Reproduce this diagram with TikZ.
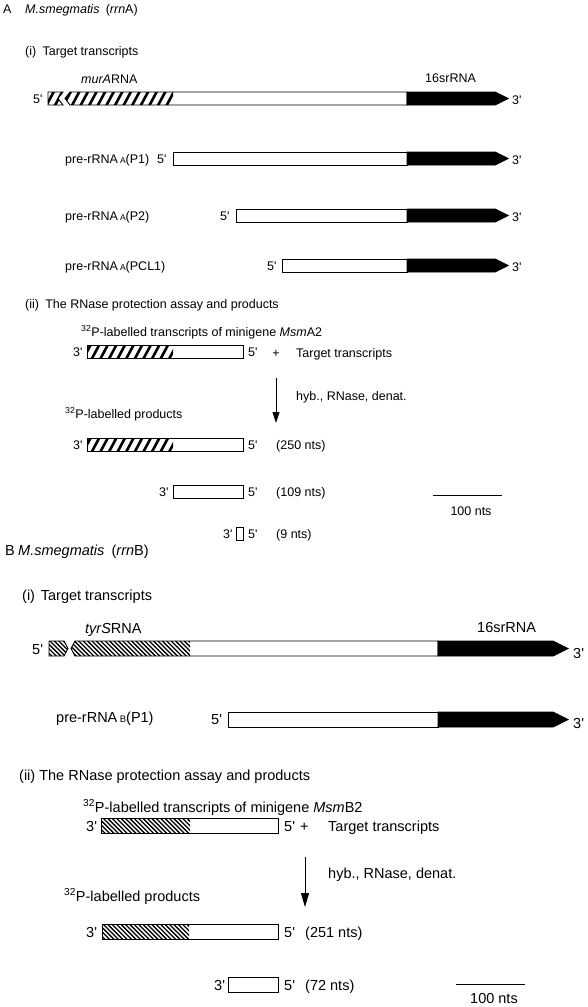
\documentclass[tikz,border=0pt]{standalone}
\usepackage{fontspec}
\setmainfont{Liberation Sans}
\usetikzlibrary{arrows.meta}
\newcommand{\pr}{\textquotesingle}
\newcommand{\hatchA}[5]{\begin{scope}\clip #1;\foreach \i in {0,...,#3}{\draw[stA] ({#2+\i*8.6-1.6},{#5+3}) -- ({#2+\i*8.6+8.6},{#4-3});}\end{scope}}
\newcommand{\hatchB}[5]{\begin{scope}\clip #1;\foreach \i in {0,...,#3}{\draw[stB] ({#2+\i*4.4},{#4-3}) -- ({#2+\i*4.4+21},{#5+3});}\end{scope}}
\newcommand{\rowA}[3]{\draw[outl,fill=white] (#1,#2) rectangle (407,#3);\draw[outl,fill=black] (407,#2)--(495,#2)--(508,{(#2+#3)/2})--(495,#3)--(407,#3)--cycle;}
\newcommand{\rowB}[3]{\draw[outl,fill=white] (#1,#2) rectangle (438,#3);\draw[outl,fill=black] (438,#2)--(553,#2)--(568,{(#2+#3)/2})--(553,#3)--(438,#3)--cycle;}
\begin{document}
\begin{tikzpicture}[x=1pt,y=-1pt,
  ta/.style={font=\fontsize{12.5}{15}\selectfont, inner sep=0pt, anchor=base west},
  tb/.style={font=\fontsize{14.5}{17}\selectfont, inner sep=0pt, anchor=base west},
  outl/.style={draw=black, line width=0.9pt},
  stA/.style={line width=2.6pt},
  stB/.style={line width=1.3pt},
  conn/.style={line width=1pt},
  scalebar/.style={line width=1pt}]
\useasboundingbox[fill=white] (0,0) rectangle (587,1007);

% ================= A =================
\node[ta] (Alet) at (3,13) {A};
\node[ta] (Atitle) at (25,13) {\textit{M.smegmatis}\hspace{0.5em}(\textit{rrn}A)};
\node[ta] (Ai) at (25,55) {(i)\hspace{0.5em}Target transcripts};
\node[ta] (mur) at (81,83) {\textit{murA}RNA};
\node[ta] (s16a) at (425,82) {16srRNA};
\node[ta] (a5) at (33,103) {5\pr};
\node[ta] (a3) at (512,104) {3\pr};
% top bar, piece 1
\fill[white] (48,92)--(63,92)--(58,98.5)--(63,105)--(48,105)--cycle;
\hatchA{(48,92)--(63,92)--(58,98.5)--(63,105)--(48,105)--cycle}{38}{3}{92}{105}
\draw[outl] (48,92)--(63,92)--(58,98.5)--(63,105)--(48,105)--cycle;
% top bar, piece 2
\fill[white] (70,92)--(407,92)--(407,105)--(70,105)--(65,98.5)--cycle;
\hatchA{(70,92)--(173,92)--(173,105)--(70,105)--(65,98.5)--cycle}{55}{15}{92}{105}
\draw[outl] (70,92)--(407,92)--(407,105)--(70,105)--(65,98.5)--cycle;
\draw[outl,fill=black] (407,92)--(495,92)--(508,98.5)--(495,105)--(407,105)--cycle;

% pre-rRNA rows
\node[ta] (p1l) at (65,163) {pre-rRNA\,{\fontsize{8.5}{9}\selectfont A}(P1)};
\node[ta] (p1five) at (157,163) {5\pr};
\rowA{173}{152}{165}
\node[ta] (p1three) at (512,164) {3\pr};

\node[ta] (p2l) at (65,220) {pre-rRNA\,{\fontsize{8.5}{9}\selectfont A}(P2)};
\node[ta] (p2five) at (220,220) {5\pr};
\rowA{236}{209}{222}
\node[ta] (p2three) at (512,221) {3\pr};

\node[ta] (p3l) at (65,270) {pre-rRNA\,{\fontsize{8.5}{9}\selectfont A}(PCL1)};
\node[ta] (p3five) at (267,270) {5\pr};
\rowA{282}{259}{272}
\node[ta] (p3three) at (512,271) {3\pr};

% (ii)
\node[ta] (Aii) at (25,308) {(ii)\hspace{0.5em}The RNase protection assay and products};
\node[ta] (Aprobe) at (81,336) {\textsuperscript{32}P-labelled transcripts of minigene \textit{Msm}A2};
\node[ta] (pr3) at (73,356) {3\pr};
\fill[white] (87,345) rectangle (243,358);
\hatchA{(87,345) rectangle (173,358)}{75}{12}{345}{358}
\draw[outl] (87,345) rectangle (243,358);
\node[ta] (pr5) at (248,356) {5\pr};
\node[ta,anchor=base] (plusA) at (276,357) {+};
\node[ta] (tgtA) at (296,357) {Target transcripts};
\coordinate (arA1) at (276,378);
\coordinate (arA2) at (276,423);
\draw[conn,-{Triangle[length=11pt,width=7pt]}] (arA1) -- (arA2);
\node[ta] (hybA) at (296,400) {hyb., RNase, denat.};
\node[ta] (prodA) at (65,418) {\textsuperscript{32}P-labelled products};

\node[ta] (q1three) at (73,449) {3\pr};
\fill[white] (87,438) rectangle (243,451);
\hatchA{(87,438) rectangle (173,451)}{75}{12}{438}{451}
\draw[outl] (87,438) rectangle (243,451);
\node[ta] (q1five) at (248,449) {5\pr};
\node[ta] (q1n) at (276,449) {(250 nts)};

\node[ta] (q2three) at (159,496) {3\pr};
\draw[outl,fill=white] (173,485) rectangle (243,498);
\node[ta] (q2five) at (248,496) {5\pr};
\node[ta] (q2n) at (276,496) {(109 nts)};

\coordinate (sbA1) at (433,495);
\coordinate (sbA2) at (502,495);
\draw[scalebar] (sbA1) -- (sbA2);
\node[ta,anchor=base] (sbAl) at (471,515) {100 nts};

\node[ta] (q3three) at (223,538) {3\pr};
\draw[outl,fill=white] (236,527) rectangle (243,540);
\node[ta] (q3five) at (248,538) {5\pr};
\node[ta] (q3n) at (276,538) {(9 nts)};

% ================= B =================
\node[tb] (Blet) at (5,555) {B};
\node[tb] (Btitle) at (18,555) {\textit{M.smegmatis}\hspace{0.5em}(\textit{rrn}B)};
\node[tb] (Bi) at (22,600) {(i)\hspace{0.4em}Target transcripts};
\node[tb] (tyr) at (85,633) {\textit{tyrS}RNA};
\node[tb] (s16b) at (477,632) {16srRNA};
\node[tb] (b5) at (32,654) {5\pr};
\node[tb] (b3) at (573,658) {3\pr};
% top bar piece 1
\fill[white] (49,641)--(64,641)--(68,648.5)--(64,656)--(49,656)--cycle;
\hatchB{(49,641)--(64,641)--(68,648.5)--(64,656)--(49,656)--cycle}{25}{12}{641}{656}
\draw[outl] (49,641)--(64,641)--(68,648.5)--(64,656)--(49,656)--cycle;
% piece 2
\fill[white] (75,641)--(438,641)--(438,656)--(75,656)--(71,648.5)--cycle;
\hatchB{(75,641)--(190,641)--(190,656)--(75,656)--(71,648.5)--cycle}{45}{35}{641}{656}
\draw[outl] (75,641)--(438,641)--(438,656)--(75,656)--(71,648.5)--cycle;
\draw[outl,fill=black] (438,641)--(553,641)--(568,648.5)--(553,656)--(438,656)--cycle;

\node[tb] (bp1l) at (56,722) {pre-rRNA\,{\fontsize{9.5}{10}\selectfont B}(P1)};
\node[tb] (bp1five) at (211,724) {5\pr};
\rowB{228}{712}{727}
\node[tb] (bp1three) at (573,728) {3\pr};

\node[tb] (Bii) at (19,780) {(ii) The RNase protection assay and products};
\node[tb] (Bprobe) at (83,812) {\textsuperscript{32}P-labelled transcripts of minigene \textit{Msm}B2};
\node[tb] (bpr3) at (86,831) {3\pr};
\fill[white] (101,818) rectangle (278,833);
\hatchB{(101,818) rectangle (190,833)}{78}{27}{818}{833}
\draw[outl] (101,818) rectangle (278,833);
\node[tb] (bpr5) at (284,831) {5\pr};
\node[tb] (plusB) at (300,831) {+};
\node[tb] (tgtB) at (328,831) {Target transcripts};
\coordinate (arB1) at (305,857);
\coordinate (arB2) at (305,907);
\draw[conn,-{Triangle[length=14pt,width=8pt]}] (arB1) -- (arB2);
\node[tb] (hybB) at (328,878) {hyb., RNase, denat.};
\node[tb] (prodB) at (64,901) {\textsuperscript{32}P-labelled products};

\node[tb] (r1three) at (86,937) {3\pr};
\fill[white] (102,924) rectangle (278,939);
\hatchB{(102,924) rectangle (189,939)}{78}{27}{924}{939}
\draw[outl] (102,924) rectangle (278,939);
\node[tb] (r1five) at (284,937) {5\pr};
\node[tb] (r1n) at (305,937) {(251 nts)};

\node[tb] (r2three) at (214,990) {3\pr};
\draw[outl,fill=white] (228,977) rectangle (278,992);
\node[tb] (r2five) at (284,990) {5\pr};
\node[tb] (r2n) at (305,990) {(72 nts)};

\coordinate (sbB1) at (456,984);
\coordinate (sbB2) at (525,984);
\draw[scalebar] (sbB1) -- (sbB2);
\node[tb,anchor=base] (sbBl) at (494,1003) {100 nts};
\end{tikzpicture}
\end{document}
